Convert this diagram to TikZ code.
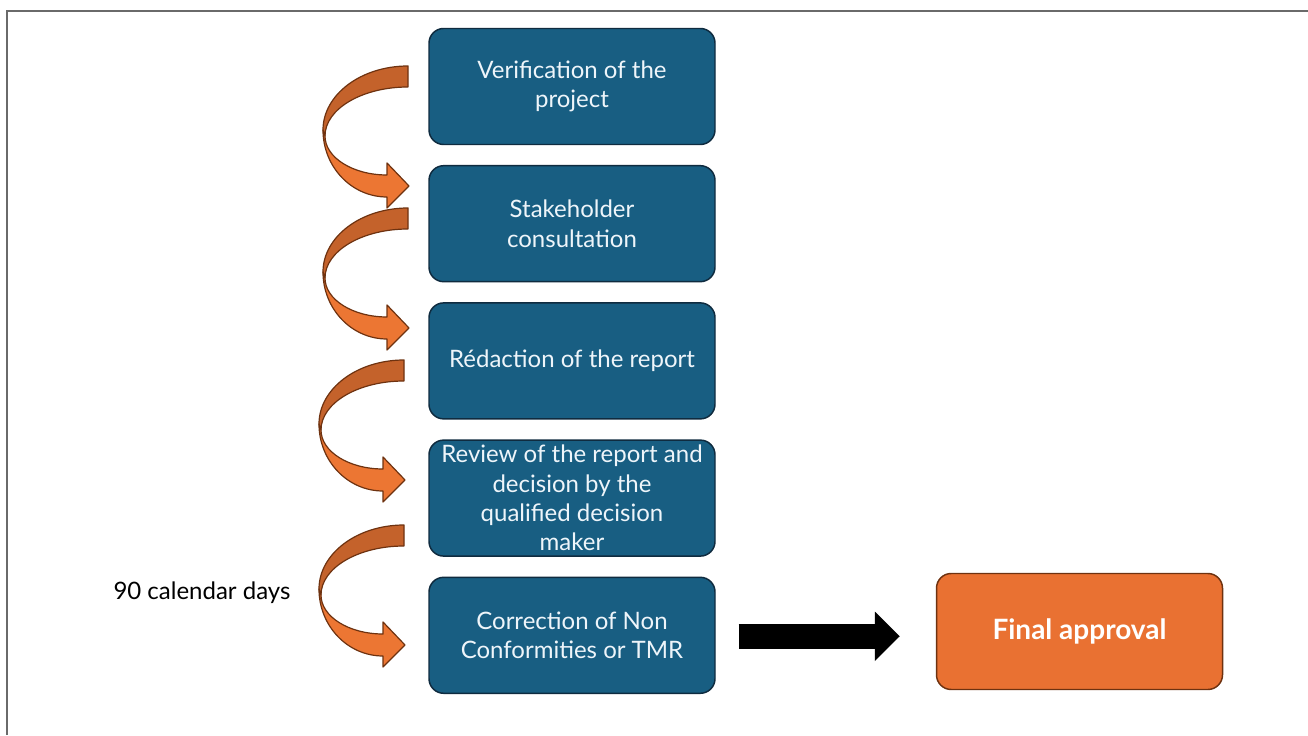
\documentclass[tikz,border=0pt]{standalone}
\usepackage{fontspec}
\setmainfont{Lato}
\usetikzlibrary{arrows.meta,positioning}

\definecolor{stepblue}{HTML}{185E82}
\definecolor{stepedge}{HTML}{0F2B3F}
\definecolor{steptext}{HTML}{EEF5FA}
\definecolor{approvalorange}{HTML}{E97132}
\definecolor{approvaledge}{HTML}{6E3210}
\definecolor{ribbonfront}{HTML}{EC7633}
\definecolor{ribbonback}{HTML}{C4622B}
\definecolor{ribbonedge}{HTML}{6E3210}
\definecolor{framegray}{HTML}{6A6A6A}

\begin{document}
\begin{tikzpicture}[
    x=0.75pt, y=0.75pt,
    node distance=14.8pt and 165.75pt,
    stepbox/.style={draw=stepedge, line width=1.1pt, fill=stepblue, text=steptext, minimum width=214.5pt, minimum height=87pt, inner ysep=0pt, rounded corners=11pt, align=center, font=\fontsize{18}{22}\selectfont},
    approval/.style={stepbox, draw=approvaledge, fill=approvalorange, text=white, font=\fontsize{21}{25}\selectfont\bfseries},
    note/.style={font=\fontsize{18}{22}\selectfont, text=black},
    bigarrow/.style={-{Triangle[length=18.75pt, width=36pt]}, line width=18.75pt, draw=black},
    ribbon/.pic={
      % back of the ribbon
      \filldraw[fill=ribbonback, draw=ribbonedge, line width=0.9pt, line join=round]
        (0,0) arc[start angle=90, end angle=180, x radius=85, y radius=64]
        -- (-83,-70) arc[start angle=180, end angle=90, x radius=83, y radius=49] -- cycle;
      % front of the ribbon with the head
      \filldraw[fill=ribbonfront, draw=ribbonedge, line width=0.9pt, line join=round]
        (-85,-64) arc[start angle=180, end angle=270, x radius=64, y radius=67]
        -- (-21,-142) -- (1,-120) -- (-21,-97) -- (-21,-109)
        arc[start angle=270, end angle=180, x radius=62, y radius=39] -- cycle;
    }
  ]
  \useasboundingbox (0,0) rectangle (1308,735);

  % Frame
  \draw[framegray, line width=1.5pt] (7,0) -- (7,724) -- (1308,724);

  % Steps
  \node[stepbox] (verify) at (572,648.5) {Verification of the\\project};
  \node[stepbox, below=of verify] (consult) {Stakeholder\\consultation};
  \node[stepbox, below=of consult] (redaction) {Rédaction of the report};
  \node[stepbox, below=of redaction] (review) {Review of the report and\\decision by the\\qualified decision\\maker};
  \node[stepbox, below=of review] (correction) {Correction of Non\\Conformities or TMR};

  % Final state
  \node[approval] (final) at (1079.5,103.5) {Final approval};

  % Duration note
  \node[note] (days) at (202,142) {90 calendar days};

  % Curved arrows between the steps
  \pic at (408,669) {ribbon};
  \pic at (408,527) {ribbon};
  \pic at (404,375) {ribbon};
  \pic at (404,210) {ribbon};

  % Arrow to the approval
  \draw[bigarrow, shorten <=17.25pt, shorten >=27pt] ([yshift=-0.75pt]correction.east) -- ([yshift=-0.75pt]correction.east -| final.west);

\end{tikzpicture}
\end{document}
